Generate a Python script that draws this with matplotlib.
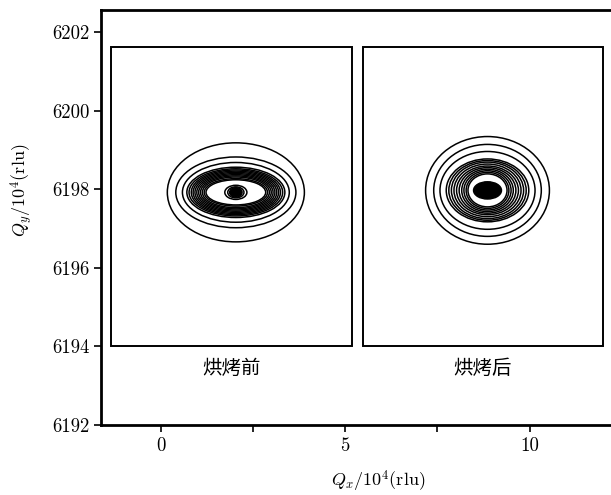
import numpy as np
import matplotlib.pyplot as plt
from matplotlib.patches import Ellipse, Rectangle

plt.rcParams['font.family'] = ['cmr10', 'Noto Sans CJK SC']
plt.rcParams['mathtext.fontset'] = 'cm'
plt.rcParams['axes.formatter.use_mathtext'] = True

# %% data
y_ticks = [6192, 6194, 6196, 6198, 6200, 6202]
x_ticks = [0, 2.5, 5, 7.5, 10]
x_tick_labels = ['0', '', '5', '', '10']

panel_names = ['烘烤前', '烘烤后']
panel_x0 = [-1.36, 5.47]
panel_x1 = [5.18, 12.0]
panel_y0 = 6194.0
panel_y1 = 6201.62

# contour rings: centre and half-widths (x, y) of each ring
left_cx, left_cy = 2.03, 6197.92
left_rx = [1.86, 1.63, 1.45, 1.33, 1.27, 1.21, 1.16, 1.11, 1.06, 1.01, 0.96, 0.91, 0.86, 0.81, 0.30, 0.22]
left_ry = [1.26, 0.90, 0.76, 0.64, 0.60, 0.57, 0.54, 0.51, 0.48, 0.45, 0.42, 0.39, 0.35, 0.32, 0.18, 0.14]
left_core = (0.17, 0.12)

right_cx, right_cy = 8.86, 6197.97
right_rx = [1.68, 1.46, 1.29, 1.12, 1.05, 0.98, 0.91, 0.84, 0.77, 0.70, 0.64, 0.58, 0.53]
right_ry = [1.37, 1.17, 0.99, 0.80, 0.76, 0.72, 0.67, 0.62, 0.58, 0.54, 0.50, 0.46, 0.42]
right_core = (0.38, 0.22)


def rings(ax, cx, cy, rx, ry, core):
    for a, b in zip(rx, ry):
        ax.add_patch(Ellipse((cx, cy), 2 * a, 2 * b, fill=False, ec='black', lw=1.1))
    ax.add_patch(Ellipse((cx, cy), 2 * core[0], 2 * core[1], fc='black', ec='black', lw=1.0))


fig = plt.figure(figsize=(6.11, 4.95), dpi=100)
ax = fig.add_axes([0.1653, 0.1414, 0.834, 0.8384])
ax.set_xlim(-1.63, 12.2)
ax.set_ylim(6192, 6202.56)

for i in range(len(panel_names)):
    ax.add_patch(Rectangle((panel_x0[i], panel_y0), panel_x1[i] - panel_x0[i],
                           panel_y1 - panel_y0, fill=False, ec='black', lw=1.4))
    ax.text((panel_x0[i] + panel_x1[i]) / 2, 6193.45, panel_names[i],
            family=['Noto Sans CJK SC'], fontsize=14, ha='center', va='center')

rings(ax, left_cx, left_cy, left_rx, left_ry, left_core)
rings(ax, right_cx, right_cy, right_rx, right_ry, right_core)

ax.set_yticks(y_ticks)
ax.set_yticklabels([str(v) for v in y_ticks])
ax.set_xticks(x_ticks)
ax.set_xticklabels(x_tick_labels)
ax.tick_params(direction='out', length=5, width=1.2, labelsize=13.5)
for s in ['left', 'bottom', 'top']:
    ax.spines[s].set_linewidth(2)
ax.spines['right'].set_visible(False)

ax.set_xlabel(r'$Q_x/10^4$(rlu)', fontsize=13)
ax.set_ylabel(r'$Q_y/10^4$(rlu)', fontsize=13)
ax.xaxis.set_label_coords(0.543, -0.105)
ax.yaxis.set_label_coords(-0.13, 0.566)

plt.savefig('out.png', dpi=100)
